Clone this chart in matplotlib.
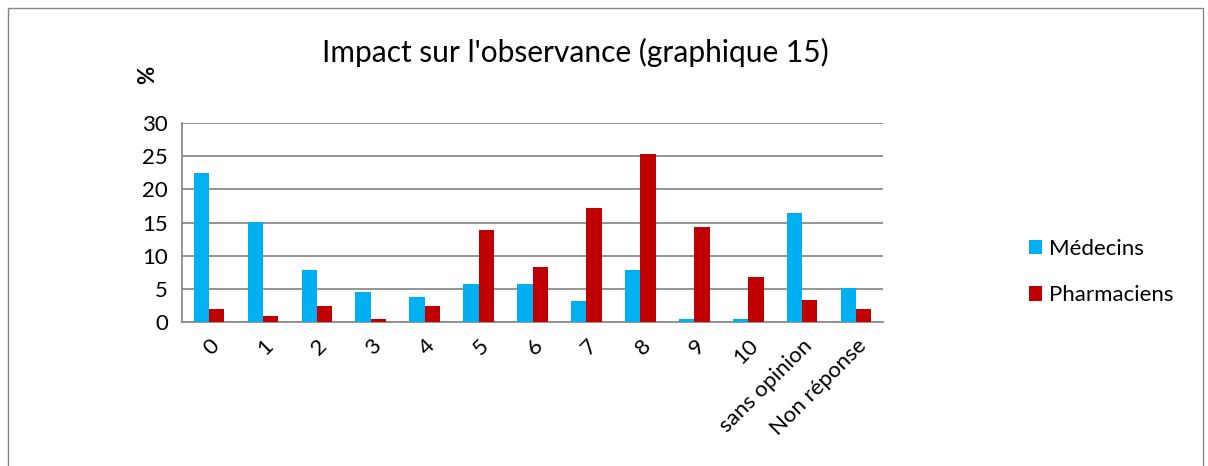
import matplotlib
matplotlib.use('Agg')
import matplotlib.pyplot as plt
import numpy as np
from matplotlib.patches import Rectangle

categories = ['0', '1', '2', '3', '4', '5', '6', '7', '8', '9', '10', 'sans opinion', 'Non réponse']
medecins = [22.4, 15.1, 7.8, 4.5, 3.8, 5.8, 5.8, 3.2, 7.8, 0.5, 0.5, 16.4, 5.2]
pharmaciens = [1.9, 0.9, 2.4, 0.4, 2.4, 13.8, 8.3, 17.2, 25.3, 14.3, 6.8, 3.3, 1.9]

plt.rcParams['font.family'] = ['Lato', 'DejaVu Sans']

fig = plt.figure(figsize=(12.08, 4.66), dpi=100)
fig.patches.append(Rectangle((8 / 1208, -0.1), 1195 / 1208, (466 - 8) / 466 + 0.1,
                             transform=fig.transFigure, fill=False,
                             edgecolor='#888888', linewidth=1))
ax = fig.add_axes([0.1507, 0.309, 0.5803, 0.427])

x = np.arange(len(categories))
w = 0.284
ax.bar(x - w / 2, medecins, w, color='#00B0F0', label='Médecins', zorder=3)
ax.bar(x + w / 2, pharmaciens, w, color='#C00000', label='Pharmaciens', zorder=3)

ax.set_xlim(-0.5, len(categories) - 0.5)
ax.set_ylim(0, 30)
ax.set_yticks(range(0, 31, 5))
ax.yaxis.grid(True, color='#8c8c8c', linewidth=1.3, zorder=0)
ax.tick_params(axis='y', labelsize=16, length=0, pad=10)
ax.tick_params(axis='x', length=0, pad=10)
ax.set_xticks(x)
ax.set_xticklabels(categories, rotation=45, ha='right', va='top',
                   rotation_mode='anchor', fontsize=16)
for s in ['top', 'right']:
    ax.spines[s].set_visible(False)
ax.spines['left'].set_color('#8c8c8c')
ax.spines['bottom'].set_color('#8c8c8c')
ax.spines['left'].set_linewidth(1.3)
ax.spines['bottom'].set_linewidth(1.3)

fig.text(575 / 1208, 1 - 52 / 466, "Impact sur l'observance (graphique 15)",
         ha='center', va='center', fontsize=21.5)
fig.text(148 / 1208, 1 - 75 / 466, '%', ha='center', va='center',
         fontsize=16, fontweight='bold', rotation=90)

fig.legend(loc='center left', bbox_to_anchor=(1018 / 1208, 1 - 272 / 466), frameon=False,
           fontsize=16, handlelength=0.6, handleheight=0.6, labelspacing=1.2,
           handletextpad=0.3, borderpad=0)

fig.savefig('out.png', dpi=100)
